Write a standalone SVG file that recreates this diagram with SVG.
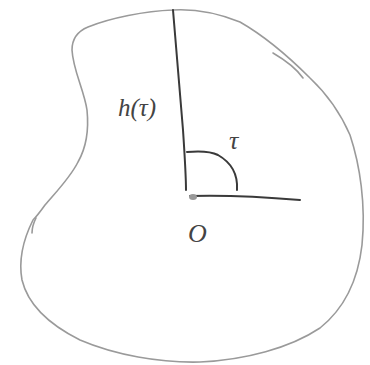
<svg xmlns="http://www.w3.org/2000/svg" width="370" height="365" viewBox="0 0 370 365">
<style>
.outline{fill:none;stroke:#9a9a9a;stroke-width:1.6;stroke-linecap:round;stroke-linejoin:round}
.ink{fill:none;stroke:#3a3a3a;stroke-width:2;stroke-linecap:round;stroke-linejoin:round}
.lbl{font-family:"Liberation Serif",serif;font-style:italic;fill:#444}
</style>
<rect width="370" height="365" fill="#fff"/>
<g id="region">
<path class="outline" d="M33,220 C24,238 18,258 22,280 C28,305 50,325 80,340 C115,355 160,363 200,362 C245,360 290,348 320,328 C345,308 358,280 362,245 C366,205 360,165 350,135 C340,112 328,95 310,78 C292,60 268,38 240,22 C215,12 190,9 173,10 C145,11 110,18 88,27 C76,32 72,40 72,50 C73,70 84,90 87,110 C89,130 86,148 78,162 C70,178 56,192 45,205 C40,212 36,217 33,220"/>
<path class="outline" d="M36,218 C34,222 32,228 32,233"/>
<path class="outline" d="M273,53 C285,60 296,68 303,78"/>
</g>
<g id="connectors">
<path class="ink" d="M173,10 C176,50 180,90 183,130 C185,160 186,178 186,190"/>
<path class="ink" d="M190,196 C225,195 265,197 300,200"/>
<path class="ink" d="M187,152 C198,151 210,151 218,155 C232,163 238,175 237,190"/>
<ellipse cx="193" cy="197" rx="4" ry="3" fill="#999"/>
</g>
<g id="labels">
<text class="lbl" x="118" y="116" font-size="25">h(τ)</text>
<text class="lbl" x="229" y="149" font-size="26">τ</text>
<text class="lbl" x="188" y="242" font-size="26">O</text>
</g>
</svg>
